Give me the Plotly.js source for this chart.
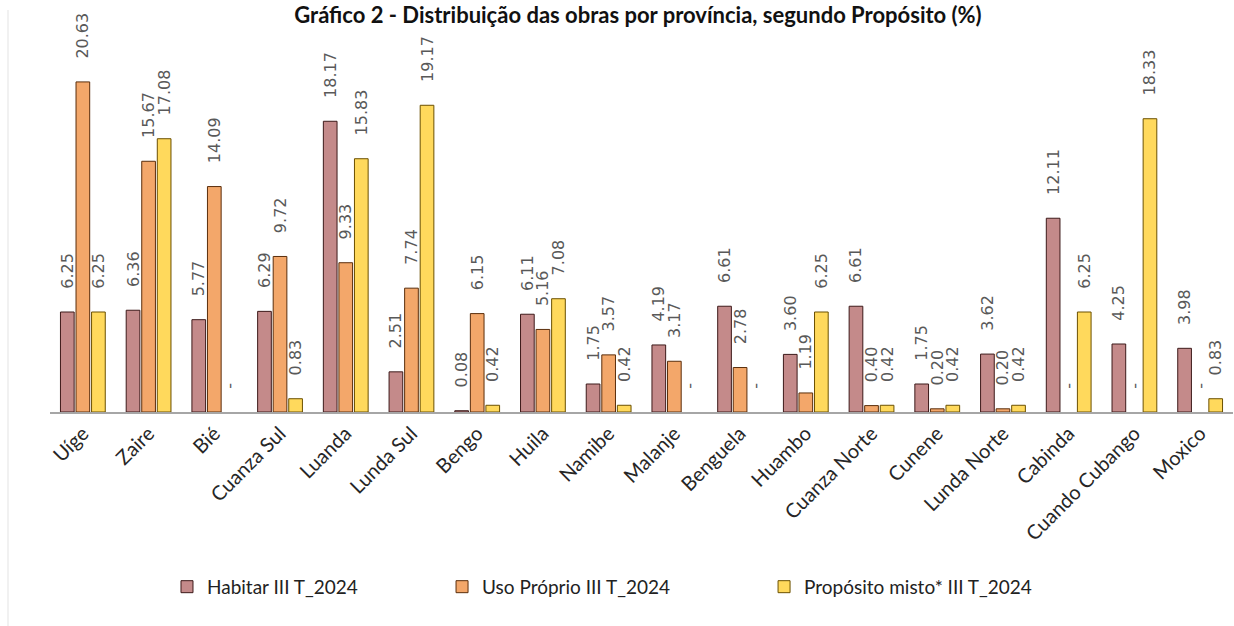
<!DOCTYPE html>
<html>
<head>
<meta charset="utf-8">
<script src="https://cdn.plot.ly/plotly-3.0.1.min.js"></script>
<style>html,body{margin:0;padding:0;background:#fff;}#chart{width:1234px;height:626px;}</style>
</head>
<body>
<div id="chart"></div>
<script>
const categories = ['Uíge','Zaire','Bié','Cuanza Sul','Luanda','Lunda Sul','Bengo','Huila','Namibe','Malanje','Benguela','Huambo','Cuanza Norte','Cunene','Lunda Norte','Cabinda','Cuando Cubango','Moxico'];
const habitar   = [6.25, 6.36, 5.77, 6.29, 18.17, 2.51, 0.08, 6.11, 1.75, 4.19, 6.61, 3.60, 6.61, 1.75, 3.62, 12.11, 4.25, 3.98];
const usoProprio = [20.63, 15.67, 14.09, 9.72, 9.33, 7.74, 6.15, 5.16, 3.57, 3.17, 2.78, 1.19, 0.40, 0.20, 0.20, 0, 0, 0];
const misto     = [6.25, 17.08, 0, 0.83, 15.83, 19.17, 0.42, 7.08, 0.42, 0, 0, 6.25, 0.42, 0.42, 0.42, 6.25, 18.33, 0.83];
const seriesNames = ['Habitar III T_2024', 'Uso Próprio III T_2024', 'Propósito misto* III T_2024'];
const titleText = 'Gráfico 2 - Distribuição das obras por província, segundo Propósito (%)';

const PAD = '\u00a0\u00a0\u00a0\u00a0';
function labels(arr){ return arr.map(v => PAD + (v === 0 ? '-' : v.toFixed(2))); }

const fills = ['#c48a8a', '#f3a76a', '#ffd95c'];
const outlines = ['#3d1a1a', '#5a2e0c', '#6b5000'];
const series = [habitar, usoProprio, misto];
const legendNames = ['legend', 'legend2', 'legend3'];

const traces = series.map((vals, i) => ({
  type: 'bar',
  name: seriesNames[i],
  x: categories,
  y: vals,
  text: labels(vals),
  textposition: 'outside',
  textangle: -90,
  constraintext: 'none',
  cliponaxis: false,
  textfont: {family: 'DejaVu Sans', size: 16, color: '#595959'},
  marker: {color: fills[i], line: {color: outlines[i], width: vals.map(v => v === 0 ? 0 : 1)}},
  legend: legendNames[i],
  hoverinfo: 'x+y+name'
}));

const legendBase = {orientation: 'h', yanchor: 'middle', y: -0.446, xanchor: 'left',
  bgcolor: 'rgba(0,0,0,0)', font: {family: 'Lato', size: 19, color: '#222'}};

const layout = {
  width: 1234, height: 626,
  margin: {l: 50, r: 1, t: 20, b: 214},
  paper_bgcolor: '#ffffff', plot_bgcolor: '#ffffff',
  barmode: 'group', bargap: 0.29, bargroupgap: 0.12,
  title: {text: '<b>' + titleText + '</b>', x: 0.517, xanchor: 'center', y: 0.988, yref: 'container', yanchor: 'top',
          font: {family: 'Lato', size: 22, color: '#111'}},
  xaxis: {type: 'category', showline: true, linecolor: '#a6a6a6', linewidth: 2, ticks: '', showgrid: false,
          tickangle: -45, tickfont: {family: 'Lato', size: 20, color: '#262626'}, automargin: false},
  yaxis: {visible: false, range: [0, 24.5], fixedrange: true},
  legend:  Object.assign({}, legendBase, {x: 0.0989}),
  legend2: Object.assign({}, legendBase, {x: 0.3314}),
  legend3: Object.assign({}, legendBase, {x: 0.6036}),
  shapes: [{type: 'line', xref: 'paper', yref: 'paper', x0: -0.0355, x1: -0.0355, y0: -0.56, y1: 1.0255,
            line: {color: '#ececec', width: 1.5}, layer: 'below'}],
  showlegend: true
};

Plotly.newPlot('chart', traces, layout, {displayModeBar: false, staticPlot: true});
</script>
</body>
</html>
